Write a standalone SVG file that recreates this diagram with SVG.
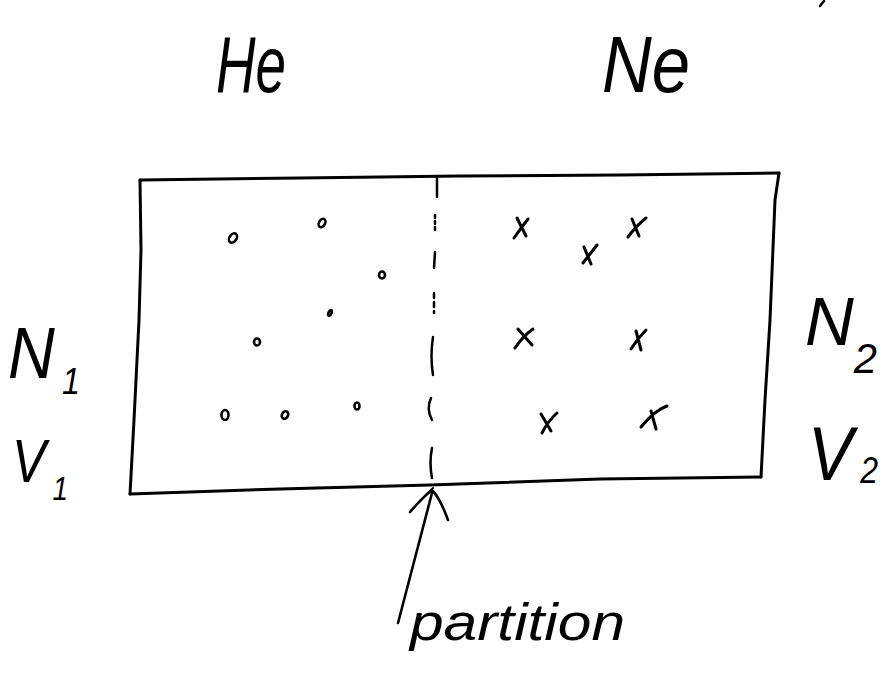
<svg xmlns="http://www.w3.org/2000/svg" width="880" height="675" viewBox="0 0 880 675">
<style>
.ink{fill:none;stroke:#000;stroke-linecap:round;stroke-linejoin:round}
.box{stroke-width:3}
.dash{stroke-width:2.5}
.p{stroke-width:2.6}
.x{stroke-width:3}
.t{font-family:"Liberation Sans",Arial,sans-serif;font-style:italic;fill:#000}
</style>
<rect width="880" height="675" fill="#fff"/>
<g id="container">
  <path class="ink box" d="M140,180 L300,178 L460,176 L620,175 L779,173"/>
  <path class="ink box" d="M779,173 L775,200 L770,320 L765,400 L761,477"/>
  <path class="ink box" d="M761,477 L600,479 L430,485 L280,489 L130,494"/>
  <path class="ink box" d="M130,494 L134,420 L139,320 L141,250 L140,180"/>
</g>
<g id="partition">
  <path class="ink dash" d="M437,176 L437,197"/>
  <path class="ink dash" d="M435,215 L435,230" stroke-dasharray="3 3"/>
  <path class="ink dash" d="M435,252 L434,268"/>
  <path class="ink dash" d="M434,293 L434,313" stroke-dasharray="5 4"/>
  <path class="ink dash" d="M433,337 Q430,356 433,375"/>
  <path class="ink dash" d="M431,398 Q426,409 432,420"/>
  <path class="ink dash" d="M432,448 Q429,463 432,478"/>
</g>
<g id="helium">
  <ellipse class="ink p" cx="233" cy="238" rx="3.5" ry="5" transform="rotate(35 233 238)"/>
  <ellipse class="ink p" cx="322" cy="223" rx="3" ry="4.5" transform="rotate(30 322 223)"/>
  <ellipse class="ink p" cx="382" cy="275" rx="3" ry="3.5"/>
  <ellipse class="ink p" cx="330" cy="313" rx="1.5" ry="3" transform="rotate(25 330 313)"/>
  <ellipse class="ink p" cx="257" cy="342" rx="3" ry="3.5"/>
  <ellipse class="ink p" cx="225" cy="415" rx="3.5" ry="5"/>
  <ellipse class="ink p" cx="285" cy="415" rx="3" ry="4" transform="rotate(30 285 415)"/>
  <ellipse class="ink p" cx="357" cy="406" rx="2.5" ry="3.5"/>
</g>
<g id="neon">
  <path class="ink x" d="M517,218 L526,236 M528,219 Q521,228 514,238"/>
  <path class="ink x" d="M632,219 L639,236 M646,218 Q636,226 628,237"/>
  <path class="ink x" d="M584,247 L591,264 M597,245 Q590,254 583,263"/>
  <path class="ink x" d="M518,329 L532,345 M533,329 Q523,336 515,348"/>
  <path class="ink x" d="M636,331 L641,350 M646,330 Q638,338 631,349"/>
  <path class="ink x" d="M541,414 L551,431 M557,413 Q548,421 542,433"/>
  <path class="ink x" d="M651,411 L656,429 M667,406 Q655,410 641,427"/>
</g>
<g id="connectors">
  <path class="ink" stroke-width="2.6" d="M398,623 L432,493"/>
  <path class="ink" stroke-width="2.6" d="M410,512 Q424,496 432,490 Q440,498 448,520"/>
  <path class="ink" stroke-width="2" d="M426,495 L433,488"/>
</g>
<g id="labels">
  <text class="t" x="216" y="92" font-size="80" textLength="70" lengthAdjust="spacingAndGlyphs">He</text>
  <text class="t" x="602" y="92" font-size="80" textLength="88" lengthAdjust="spacingAndGlyphs">Ne</text>
  <text class="t" x="8" y="378" font-size="72" textLength="72" lengthAdjust="spacingAndGlyphs">N<tspan font-size="36" dx="8" dy="16">1</tspan></text>
  <text class="t" x="12" y="482" font-size="62" textLength="56" lengthAdjust="spacingAndGlyphs">V<tspan font-size="34" dx="8" dy="18">1</tspan></text>
  <text class="t" x="805" y="345" font-size="68" textLength="72" lengthAdjust="spacingAndGlyphs">N<tspan font-size="42" dy="28">2</tspan></text>
  <text class="t" x="808" y="480" font-size="76" textLength="70" lengthAdjust="spacingAndGlyphs">V<tspan font-size="36" dx="8" dy="3">2</tspan></text>
  <text class="t" x="410" y="640" font-size="52" textLength="215" lengthAdjust="spacingAndGlyphs">partition</text>
</g>
<path class="ink" stroke-width="2.5" d="M820,6 L824,1"/>
</svg>
